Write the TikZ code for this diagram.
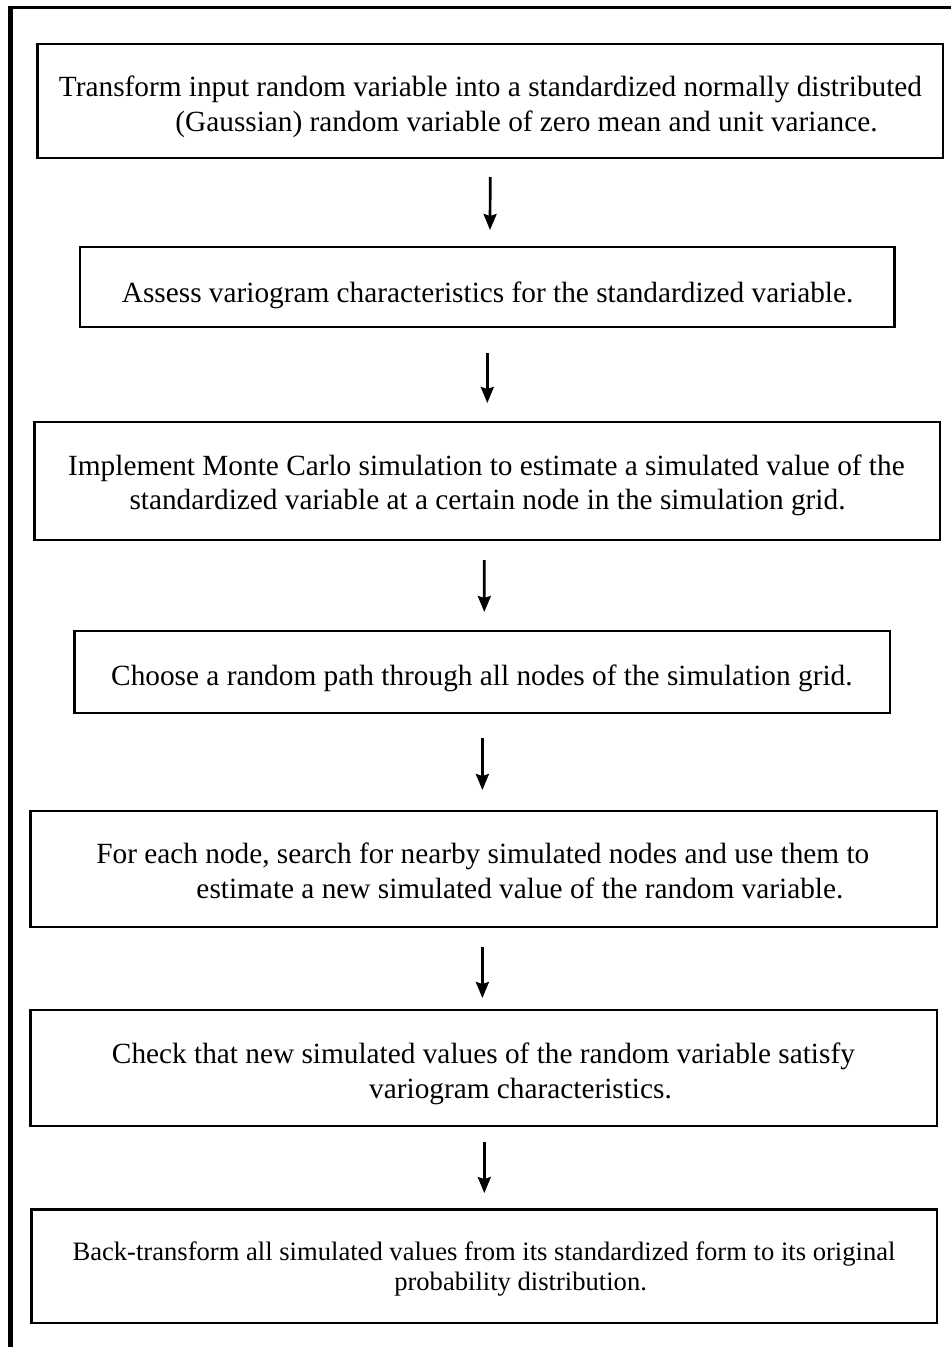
\documentclass[tikz,border=0pt]{standalone}
\usepackage{fontspec}
\setmainfont{Liberation Serif}
\usetikzlibrary{calc,arrows.meta}
\begin{document}
\begin{tikzpicture}[x=1bp,y=-1bp,
  box/.style={draw, line width=2.6bp, inner sep=0pt, outer sep=0pt, rectangle},
  txt/.style={anchor=base, inner sep=0pt, font=\fontsize{29.3bp}{35bp}\selectfont},
  txts/.style={anchor=base, inner sep=0pt, font=\fontsize{26.6bp}{30bp}\selectfont},
  arr/.style={line width=2.7bp, -{Stealth[length=16bp,width=13bp,inset=2bp]}}]
\useasboundingbox (0,0) rectangle (951,1347);
% outer frame (top and left sides only)
\draw[line width=3.5bp] (8,7.7) -- (951,7.7);
\draw[line width=4.7bp] (10.4,5.9) -- (10.4,1347);
% boxes
\node[box, minimum width=905.5bp, minimum height=114bp] (b1) at (490.25,101) {};
\node[box, minimum width=814.7bp, minimum height=80bp] (b2) at (487.3,287) {};
\node[box, minimum width=905.5bp, minimum height=118bp] (b3) at (487.3,481) {};
\node[box, minimum width=815.3bp, minimum height=82bp] (b4) at (482.2,672) {};
\node[box, minimum width=906.7bp, minimum height=116bp] (b5) at (483.7,869) {};
\node[box, minimum width=906.7bp, minimum height=116bp] (b6) at (483.7,1068) {};
\node[box, minimum width=905.5bp, minimum height=113.5bp] (b7) at (484.3,1266.3) {};
% texts
\node[txt] (t1a) at (490.5,97) {Transform input random variable into a standardized normally distributed};
\node[txt] (t1b) at (526.5,132) {(Gaussian) random variable of zero mean and unit variance.};
\node[txt] (t2) at (487.6,302) {Assess variogram characteristics for the standardized variable.};
\node[txt] (t3a) at (486.4,475) {Implement Monte Carlo simulation to estimate a simulated value of the};
\node[txt] (t3b) at (487.5,509) {standardized variable at a certain node in the simulation grid.};
\node[txt] (t4) at (481.9,685) {Choose a random path through all nodes of the simulation grid.};
\node[txt] (t5a) at (482.8,863) {For each node, search for nearby simulated nodes and use them to};
\node[txt] (t5b) at (519.9,898) {estimate a new simulated value of the random variable.};
\node[txt] (t6a) at (483.4,1063) {Check that new simulated values of the random variable satisfy};
\node[txt] (t6b) at (520.5,1098) {variogram characteristics.};
\node[txts] (t7a) at (484,1260) {Back-transform all simulated values from its standardized form to its original};
\node[txts] (t7b) at (520.6,1290) {probability distribution.};
% arrows
\draw[arr] ($(b1.south)+(0,19)$) -- ($(b2.north)+(2.7,-17)$);
\draw[arr] ($(b2.south)+(0,26)$) -- ($(b3.north)+(0,-19)$);
\draw[arr] ($(b3.south)+(-3,20)$) -- ($(b4.north)+(2.1,-19)$);
\draw[arr] ($(b4.south)+(0.2,25)$) -- ($(b5.north)+(-1.3,-21)$);
\draw[arr] ($(b5.south)+(-1.3,20)$) -- ($(b6.north)+(-1.3,-12)$);
\draw[arr] ($(b6.south)+(0.6,16)$) -- ($(b7.north)+(0,-16.5)$);
\end{tikzpicture}
\end{document}
